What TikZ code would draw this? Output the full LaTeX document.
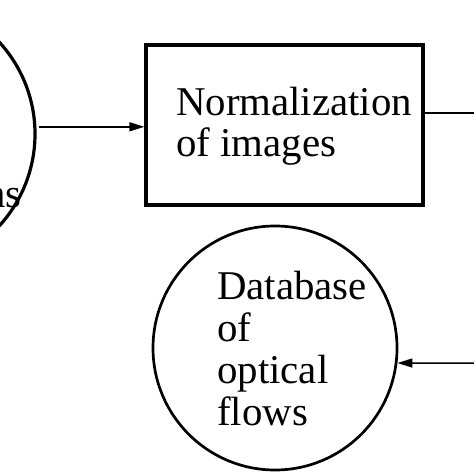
\documentclass[tikz,border=0pt]{standalone}
\usepackage{fontspec}
\setmainfont{Liberation Serif}
\usetikzlibrary{arrows.meta,positioning,calc}

\begin{document}
\begin{tikzpicture}[x=1bp, y=1bp,
  blk/.style={draw, line width=3.2bp, minimum width=277bp, minimum height=160bp, inner sep=0pt},
  db/.style={draw, circle, inner sep=0pt},
  lbl/.style={align=left, inner sep=0pt, font=\fontsize{41}{42}\selectfont},
  arr/.style={line width=1.5bp, -{Triangle[length=15bp,width=9bp]}},
  ln/.style={line width=1.5bp}]

\useasboundingbox (0, 0) rectangle (474, -474);

\node[db, line width=3.2bp, minimum size=272bp] (seq) at (-101, -134) {};
\node[lbl, anchor=base east] (seqtxt) at (22, -208) {ns};

\node[blk] (norm) at (284.5, -125) {};
\node[lbl, anchor=base west] (normtxt) at (176, -157) {Normalization\\of images};

\node[db, line width=2.7bp, minimum size=244bp] (flows) at (275, -348) {};
\node[lbl, anchor=base west] (flowtxt) at (217, -425) {Database\\of\\optical\\flows};

\coordinate (out) at (480, -113);
\coordinate (in) at (480, -363);

\draw[arr, shorten <=3bp] (seq.3) -- (seq.3 -| norm.west);
\draw[ln] (norm.east |- out) -- (out);
\draw[arr] (in) -- (flows.-7);
\end{tikzpicture}
\end{document}
